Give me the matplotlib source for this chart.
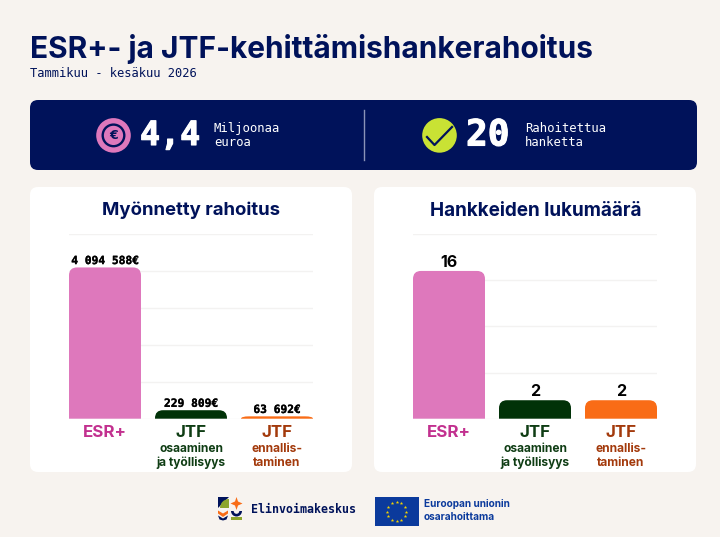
import matplotlib; matplotlib.use('Agg')
import matplotlib.pyplot as plt
import matplotlib.patheffects as pe
import numpy as np
from matplotlib.patches import FancyBboxPatch, Circle, Rectangle, PathPatch, Polygon, Wedge
from matplotlib.path import Path

W, H = 720, 537
BG = '#F7F3EF'; NAVY = '#00125A'; PINK = '#DE78BC'; DGREEN = '#013208'; ORANGE = '#F96C16'; LIME = '#C9E234'
EU = '#0B3A9C'; GRID = '#F3F2F1'

categories = ['ESR+', 'JTF', 'JTF']
sublabels = ['', 'osaaminen\nja työllisyys', 'ennallis-\ntaminen']
funding = [4094588, 229809, 63692]
funding_labels = ['4 094 588€', '229 809€', '63 692€']
projects = [16, 2, 2]
bar_colors = [PINK, DGREEN, ORANGE]
label_colors = ['#C2308F', '#0F3D14', '#A33A0C']

plt.rcParams['font.family'] = ['Inter', 'DejaVu Sans']
MONO = 'DejaVu Sans Mono'
fig = plt.figure(figsize=(W/100, H/100), dpi=100, facecolor=BG)

def heavy(color, lw=0.2):
    return [pe.withStroke(linewidth=lw, foreground=color)]

# pixel-coordinate layer for the cards and header
bg = fig.add_axes([0, 0, 1, 1]); bg.set_xlim(0, W); bg.set_ylim(H, 0); bg.axis('off')

def card(x0, y0, x1, y1, color, r=8):
    bg.add_patch(FancyBboxPatch((x0+r, y0+r), x1-x0-2*r, y1-y0-2*r, boxstyle=f'round,pad={r},rounding_size={r}',
                                fc=color, ec='none'))

bg.text(30, 49.5, 'ESR+- ja JTF-kehittämishankerahoitus', fontsize=21.5, fontweight='bold', color=NAVY, va='center')
bg.text(30, 73.5, 'Tammikuu - kesäkuu 2026', fontsize=8.75, family=MONO, color=NAVY, va='center')

card(30, 100, 697, 170, NAVY)
card(30, 187, 352, 472, 'white')
card(374, 187, 696, 472, 'white')
bg.plot([363.5, 363.5], [110, 160], color='#8A93B8', lw=1)

# KPI icons
bg.add_patch(Circle((113.5, 135.4), 17.3, fc=PINK, ec='none'))
bg.add_patch(Circle((113.5, 135.4), 10.8, fc='none', ec=NAVY, lw=1.7))
bg.text(113.5, 135.6, '€', fontsize=9, fontweight='bold', color=NAVY, ha='center', va='center', family='DejaVu Sans')
bg.add_patch(Circle((439.5, 135.4), 17.3, fc=LIME, ec='none'))
bg.plot([427, 434.5, 452], [137, 145, 127], color=NAVY, lw=1.6)

bg.text(140, 135.5, '4,4', fontsize=24, fontweight='bold', family=MONO, color='white', va='center',
        path_effects=heavy('white', 0.8))
bg.text(466, 135.5, '20', fontsize=26, fontweight='bold', family=MONO, color='white', va='center',
        path_effects=heavy('white', 0.8))
for x, top, bottom in [(214, 'Miljoonaa', 'euroa'), (525, 'Rahoitettua', 'hanketta')]:
    bg.text(x, 128.5, top, fontsize=8.8, family=MONO, color='white', va='center')
    bg.text(x, 142.5, bottom, fontsize=8.8, family=MONO, color='white', va='center')

bg.text(191, 210.5, 'Myönnetty rahoitus', fontsize=13.4, fontweight='bold', color=NAVY, ha='center', va='center')
bg.text(535.5, 210.5, 'Hankkeiden lukumäärä', fontsize=13.6, fontweight='bold', color=NAVY, ha='center', va='center')

def rounded_bar(ax, x, h, width, color, px_x, px_y, r=8):
    # bar with rounded top corners, radius given in pixels
    rx = r/px_x; ry = min(r/px_y, h)
    l, rt = x-width/2, x+width/2
    verts = [(l, 0), (l, h-ry), (l, h), (l+rx, h), (rt-rx, h), (rt, h), (rt, h-ry), (rt, 0), (l, 0)]
    codes = [Path.MOVETO, Path.LINETO, Path.CURVE3, Path.CURVE3, Path.LINETO, Path.CURVE3, Path.CURVE3, Path.LINETO, Path.CLOSEPOLY]
    ax.add_patch(PathPatch(Path(verts, codes), fc=color, ec='none', zorder=3))

def chart(x0, values, labels, ymax, step, mono_labels):
    base, top, x1 = 418.7, 234, x0+244
    ax = fig.add_axes([x0/W, 1-base/H, (x1-x0)/W, (base-top)/H])
    ax.patch.set_visible(False)
    ax.set_xlim(-36/86, 2+36/86); ax.set_ylim(0, ymax)
    for s in ax.spines.values(): s.set_visible(False)
    ax.set_yticks(np.arange(0, ymax+1, step)); ax.set_yticklabels([])
    ax.tick_params(length=0)
    ax.grid(axis='y', color=GRID, lw=1); ax.set_axisbelow(True)
    ax.set_xticks(range(3)); ax.set_xticklabels(categories, fontsize=12.2, fontweight='bold')
    ax.tick_params(axis='x', pad=4.6)
    for tick, c in zip(ax.get_xticklabels(), label_colors): tick.set_color(c)
    px_x = 86.0; px_y = (base-top)/ymax
    for i, (v, lab) in enumerate(zip(values, labels)):
        rounded_bar(ax, i, v, 72/86, bar_colors[i], px_x, px_y)
        if mono_labels:
            ax.annotate(lab, (i, v), xytext=(0, 1), textcoords='offset points', ha='center', va='bottom',
                        fontsize=8.1, fontweight='bold', family=MONO, color='black', path_effects=heavy('black'))
        else:
            ax.annotate(lab, (i, v), xytext=(0, 1), textcoords='offset points', ha='center', va='bottom',
                        fontsize=11.5, fontweight='bold', color='black')
        if sublabels[i]:
            ax.annotate(sublabels[i], (i, 0), xycoords=ax.get_xaxis_transform(), xytext=(0, -17.5),
                        textcoords='offset points', ha='center', va='top', fontsize=8.6, fontweight='bold',
                        color=label_colors[i], linespacing=1.2)
    return ax

chart(69, funding, funding_labels, 5000000, 1000000, True)
chart(413, projects, [str(p) for p in projects], 20, 5, False)

# footer logo
GREEN2 = '#8CA52C'
bg.add_patch(Polygon([(218, 497), (229, 497), (218, 508)], fc=NAVY, ec='none'))
bg.add_patch(Wedge((229, 508), 9, 180, 270, fc=GREEN2, ec='none'))
bg.add_patch(Polygon([(236.5, 497), (238, 501.5), (242.5, 503.5), (238, 505.5), (236.5, 510), (235, 505.5), (230.5, 503.5), (235, 501.5)],
                     fc=ORANGE, ec='none'))
bg.add_patch(Polygon([(218, 510.5), (223, 513.5), (228, 510.5), (228, 513.5), (223, 517), (218, 513.5)], fc=ORANGE, ec='none'))
bg.add_patch(Polygon([(218, 515.5), (223, 518.5), (228, 515.5), (226.5, 519.5), (223, 520.5), (219.5, 519.5)], fc=NAVY, ec='none'))
bg.add_patch(Wedge((236.5, 511), 5.5, 0, 180, fc=NAVY, ec='none'))
bg.add_patch(Wedge((236.5, 511), 2.8, 0, 180, fc=BG, ec='none'))
bg.add_patch(Rectangle((231, 517.3), 11, 3, fc=GREEN2, ec='none'))
bg.text(251, 509.5, 'Elinvoimakeskus', fontsize=8.4, fontweight='bold', color=NAVY, va='center', family=MONO)

# EU flag
bg.add_patch(Rectangle((375, 497), 43.5, 29, fc=EU, ec='none'))
ang = np.deg2rad(np.arange(0, 360, 30))
bg.scatter(396.7+9.5*np.cos(ang), 511.5+9.5*np.sin(ang), marker='*', s=7, color='#F5D400', linewidths=0)
bg.text(424, 504, 'Euroopan unionin', fontsize=7.25, fontweight='bold', color=EU, va='center')
bg.text(424, 516.5, 'osarahoittama', fontsize=7.25, fontweight='bold', color=EU, va='center')

fig.savefig('out.png', dpi=100, facecolor=BG)
